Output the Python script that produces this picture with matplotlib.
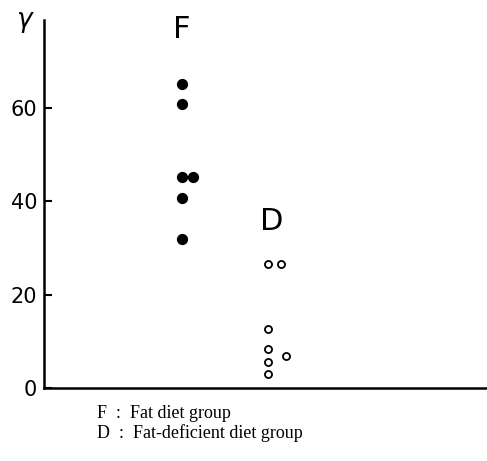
import matplotlib.pyplot as plt

# readings from the figure (gamma values)
fat_x = [1.0, 1.0, 1.0, 1.13, 1.0, 1.0]
fat_y = [65.2, 60.9, 45.1, 45.2, 40.6, 32.0]
def_x = [2.0, 2.15, 2.0, 2.0, 2.0, 2.0, 2.21]
def_y = [26.5, 26.5, 12.7, 8.3, 5.6, 3.0, 6.8]
yticks = [0, 20, 40, 60]
group_labels = ["F", "D"]
group_label_pos = [(1.0, 76.7), (2.05, 35.7)]
caption = ["F  :  Fat diet group", "D  :  Fat-deficient diet group"]

fig = plt.figure(figsize=(4.87, 4.61), dpi=100)
ax = fig.add_axes([44 / 487, 73 / 461, 1 - 44 / 487, (388 - 20) / 461])

ax.scatter(fat_x, fat_y, s=50, color="black", zorder=3)
ax.scatter(def_x, def_y, s=26, facecolor="white", edgecolor="black",
           linewidth=1.3, zorder=3)

for lab, (x, y) in zip(group_labels, group_label_pos):
    ax.text(x, y, lab, ha="center", va="center", fontsize=22,
            family=["Liberation Sans Narrow", "DejaVu Sans"])

ax.set_xlim(-0.605, 4.55)
ax.set_ylim(0, 78.8)
ax.set_xticks([])
ax.set_yticks(yticks)
ax.set_yticklabels([str(t) for t in yticks], fontsize=15,
                   family=["Liberation Sans Narrow", "DejaVu Sans"])
ax.tick_params(axis="y", direction="in", length=6, width=1.5, pad=5)

for side in ["top", "right"]:
    ax.spines[side].set_visible(False)
for side in ["left", "bottom"]:
    ax.spines[side].set_linewidth(1.8)

fig.text(25 / 487, 1 - 22 / 461, r"$\gamma$", fontsize=19, ha="center", va="center")

for i, line in enumerate(caption):
    fig.text(97 / 487, 1 - (413 + 20 * i) / 461, line, fontsize=13,
             family="Liberation Serif", ha="left", va="center")

fig.savefig("out.png", dpi=100)
